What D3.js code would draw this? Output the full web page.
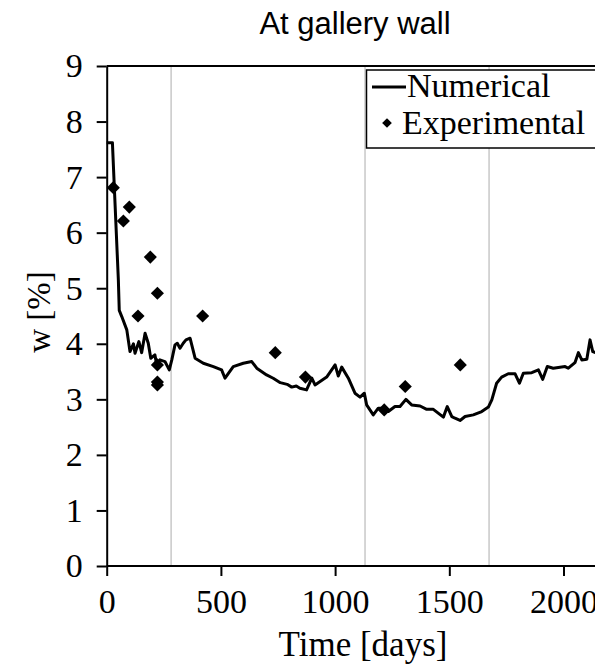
<!DOCTYPE html>
<html>
<head>
<meta charset="utf-8">
<script src="https://cdn.jsdelivr.net/npm/d3@7"></script>
<style>
  body { margin: 0; background: #fff; }
  svg text { fill: #000; }
</style>
</head>
<body>
<div id="chart"></div>
<script>
const width = 595;
const height = 668;

// numerical model (time in days, moisture w in %)
const numDays = [0, 25, 32, 51, 55, 66, 88, 102, 117, 124, 141, 153, 168, 182, 193, 211, 219, 233, 255, 274,
  285, 299, 309, 321, 335, 347, 365, 387, 423, 467, 503, 518, 554, 598, 635, 657, 700, 729, 760, 790,
  810, 830, 846, 875, 898, 912, 963, 1000, 1014, 1029, 1058, 1087, 1109, 1128, 1138, 1167, 1189, 1211, 1233, 1262,
  1284, 1310, 1335, 1372, 1401, 1430, 1474, 1491, 1511, 1525, 1547, 1569, 1605, 1642, 1671, 1686, 1707, 1729, 1758, 1788,
  1807, 1824, 1861, 1890, 1909, 1929, 1955, 2007, 2021, 2050, 2065, 2080, 2102, 2116, 2128, 2140];
const numW = [7.62, 7.62, 6.95, 5.15, 4.6, 4.49, 4.25, 3.86, 4.0, 3.83, 4.04, 3.84, 4.19, 4.01, 3.74, 3.80, 3.62, 3.71, 3.68, 3.53,
  3.71, 3.98, 4.01, 3.92, 4.01, 4.07, 4.10, 3.74, 3.65, 3.59, 3.53, 3.38, 3.59, 3.65, 3.68, 3.56, 3.44, 3.38, 3.30, 3.27,
  3.22, 3.24, 3.20, 3.17, 3.38, 3.26, 3.40, 3.62, 3.42, 3.58, 3.38, 3.11, 3.04, 3.11, 2.90, 2.72, 2.84, 2.84, 2.78, 2.87,
  2.87, 3.00, 2.90, 2.88, 2.82, 2.82, 2.68, 2.87, 2.69, 2.66, 2.62, 2.69, 2.72, 2.78, 2.86, 2.99, 3.29, 3.40, 3.46, 3.46,
  3.29, 3.47, 3.48, 3.53, 3.36, 3.59, 3.56, 3.59, 3.56, 3.66, 3.84, 3.71, 3.72, 4.07, 3.86, 3.84];

// measurements
const expDays = [29, 73, 99, 137, 191, 222, 222, 222, 222, 420, 738, 870, 1215, 1307, 1548];
const expW = [6.81, 6.21, 6.46, 4.50, 5.56, 4.91, 3.62, 3.31, 3.26, 4.50, 3.84, 3.40, 2.81, 3.23, 3.62];

// grey vertical markers
const markerDays = [282, 1131, 1674];

const xTicks = [0, 500, 1000, 1500, 2000];
const yTicks = [0, 1, 2, 3, 4, 5, 6, 7, 8, 9];

const svg = d3.select("#chart")
    .append("svg")
    .attr("width", width)
    .attr("height", height);

const x = d3.scaleLinear().domain([0, 2140]).range([106.7, 595.5]);
const y = d3.scaleLinear().domain([0, 9]).range([566, 66]);

const serif = "'Liberation Serif', 'Times New Roman', serif";

svg.append("text")
    .attr("x", 355)
    .attr("y", 34)
    .attr("text-anchor", "middle")
    .style("font-family", "'Liberation Sans', Arial, sans-serif")
    .style("font-size", "31px")
    .text("At gallery wall");

svg.selectAll(".marker")
    .data(markerDays)
    .enter()
    .append("line")
    .attr("class", "marker")
    .attr("x1", d => x(d))
    .attr("x2", d => x(d))
    .attr("y1", y(9))
    .attr("y2", y(0))
    .attr("stroke", "#c8c8c8")
    .attr("stroke-width", 1.5);

// top frame line
svg.append("line")
    .attr("x1", x(0))
    .attr("x2", width + 5)
    .attr("y1", y(9))
    .attr("y2", y(9))
    .attr("stroke", "#000")
    .attr("stroke-width", 2);

const xAxis = svg.append("g")
    .attr("transform", `translate(0,${y(0)})`)
    .call(d3.axisBottom(x).tickValues(xTicks).tickFormat(d3.format("d"))
        .tickSize(10).tickSizeOuter(0).tickPadding(13));

const yAxis = svg.append("g")
    .attr("transform", `translate(${x(0)},0)`)
    .call(d3.axisLeft(y).tickValues(yTicks).tickSize(10).tickSizeOuter(0).tickPadding(14));

[xAxis, yAxis].forEach(g => {
    g.select(".domain").attr("stroke", "#000").attr("stroke-width", 2);
    g.selectAll(".tick line").attr("stroke", "#000").attr("stroke-width", 2);
    g.selectAll(".tick text")
        .style("font-family", serif)
        .style("font-size", "34px")
        .attr("fill", "#000");
});
xAxis.select(".domain").attr("d", `M${x(0)},0H${width + 5}`);

svg.append("text")
    .attr("x", 363)
    .attr("y", 656)
    .attr("text-anchor", "middle")
    .style("font-family", serif)
    .style("font-size", "35px")
    .text("Time [days]");

svg.append("text")
    .attr("transform", "translate(50,312) rotate(-90)")
    .attr("text-anchor", "middle")
    .style("font-family", serif)
    .style("font-size", "33px")
    .text("w [%]");

const line = d3.line()
    .x((d, i) => x(numDays[i]))
    .y(d => y(d));

svg.append("path")
    .datum(numW)
    .attr("d", line)
    .attr("fill", "none")
    .attr("stroke", "#000")
    .attr("stroke-width", 3)
    .attr("stroke-linejoin", "round");

const diamond = d3.symbol().type(d3.symbolDiamond2).size(110);

svg.selectAll(".exp")
    .data(expW)
    .enter()
    .append("path")
    .attr("class", "exp")
    .attr("transform", (d, i) => `translate(${x(expDays[i])},${y(d)})`)
    .attr("d", diamond)
    .attr("fill", "#000");

// legend
const legend = svg.append("g");
legend.append("rect")
    .attr("x", 366.5)
    .attr("y", 70)
    .attr("width", 240)
    .attr("height", 78)
    .attr("fill", "#fff")
    .attr("stroke", "#000")
    .attr("stroke-width", 1.5);
legend.append("line")
    .attr("x1", 372)
    .attr("x2", 406)
    .attr("y1", 87)
    .attr("y2", 87)
    .attr("stroke", "#000")
    .attr("stroke-width", 3);
legend.append("path")
    .attr("transform", "translate(387,123)")
    .attr("d", d3.symbol().type(d3.symbolDiamond2).size(60))
    .attr("fill", "#000");
legend.append("text")
    .attr("x", 407)
    .attr("y", 97)
    .style("font-family", serif)
    .style("font-size", "34px")
    .text("Numerical");
legend.append("text")
    .attr("x", 402)
    .attr("y", 134)
    .style("font-family", serif)
    .style("font-size", "34px")
    .text("Experimental");
</script>
</body>
</html>
